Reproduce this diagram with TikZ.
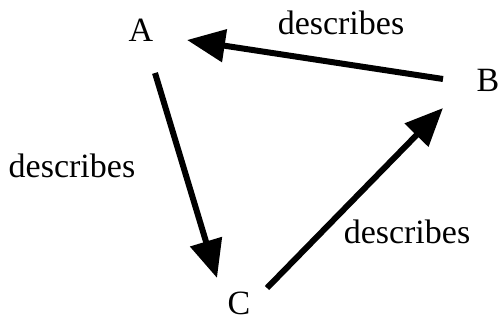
\documentclass[tikz,border=0pt]{standalone}
\usepackage{fontspec}
\setmainfont{Liberation Serif}
\newfontfamily\tms{Liberation Serif}
\usetikzlibrary{arrows.meta}
\begin{document}
\begin{tikzpicture}[x=1pt,y=-1pt,
  lbl/.style={anchor=base,inner sep=0pt,font=\tms\fontsize{34}{40}\selectfont},
  conn/.style={line width=6pt,-{Triangle[length=38pt,width=32pt]}}]
\useasboundingbox (0,0) rectangle (502,320);
\node[lbl] (A) at (141,42) {A};
\node[lbl] (B) at (488,92) {B};
\node[lbl] (C) at (239,314) {C};
\node[lbl] (l1) at (341,35) {describes};
\node[lbl] (l2) at (72,178) {describes};
\node[lbl] (l3) at (407,243) {describes};
\coordinate (Bout) at (443,79);
\coordinate (Ain) at (187,40);
\coordinate (Aout) at (155,73);
\coordinate (Cin) at (217,278);
\coordinate (Cout) at (267,288);
\coordinate (Bin) at (443,108);
\draw[conn] (Bout) -- (Ain);
\draw[conn] (Aout) -- (Cin);
\draw[conn] (Cout) -- (Bin);
\end{tikzpicture}
\end{document}
